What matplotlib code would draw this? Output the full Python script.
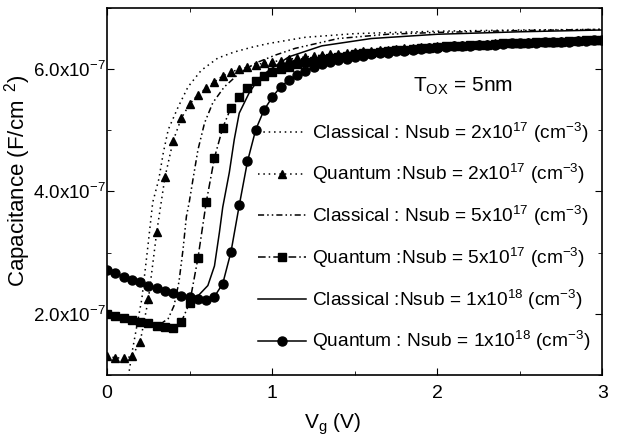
import numpy as np
import matplotlib
matplotlib.use('Agg')
import matplotlib.pyplot as plt
from matplotlib.ticker import MultipleLocator

plt.rcParams['font.family'] = ['Liberation Sans', 'DejaVu Sans']
plt.rcParams['mathtext.fontset'] = 'custom'
plt.rcParams['mathtext.rm'] = 'Liberation Sans'
plt.rcParams['mathtext.it'] = 'Liberation Sans'

# capacitance values in units of 1e-7 F/cm^2
# classical curves (lines only)
v_cl_2e17 = [0.0, 0.10, 0.13, 0.155, 0.18, 0.21, 0.245, 0.276, 0.313, 0.34, 0.37, 0.43,
             0.49, 0.57, 0.67, 0.77, 0.88, 0.98, 1.2, 1.5, 2.0, 2.5, 3.0]
c_cl_2e17 = [0.75, 0.85, 1.0, 1.43, 1.80, 2.24, 3.06, 3.82, 4.20, 4.63, 5.01, 5.38,
             5.71, 5.98, 6.18, 6.28, 6.36, 6.42, 6.52, 6.58, 6.62, 6.64, 6.65]

v_cl_5e17 = [0.0, 0.1, 0.2, 0.307, 0.37, 0.405, 0.435, 0.46, 0.48, 0.497, 0.52, 0.55,
             0.59, 0.64, 0.71, 0.80, 0.90, 1.02, 1.14, 1.4, 1.7, 2.0, 2.5, 3.0]
c_cl_5e17 = [1.98, 1.90, 1.83, 1.80, 1.92, 2.13, 2.52, 3.06, 3.59, 3.82, 4.20, 4.68,
             5.12, 5.45, 5.71, 5.93, 6.10, 6.23, 6.34, 6.50, 6.57, 6.60, 6.63, 6.65]

v_cl_1e18 = [0.0, 0.2, 0.4, 0.5, 0.55, 0.61, 0.65, 0.68, 0.70, 0.74, 0.77, 0.80,
             0.86, 0.92, 0.98, 1.1, 1.3, 1.6, 2.0, 2.5, 3.0]
c_cl_1e18 = [2.70, 2.50, 2.33, 2.27, 2.29, 2.46, 2.78, 3.33, 3.74, 4.31, 4.85, 5.28,
             5.61, 5.85, 5.98, 6.20, 6.38, 6.50, 6.57, 6.61, 6.64]

# quantum curves, markers every 0.05 V from 0 to 3 V
v_qm = np.round(np.arange(0, 3.001, 0.05), 2)
c_qm_2e17 = [1.30, 1.28, 1.27, 1.30, 1.54, 2.24, 3.33, 4.23, 4.83, 5.20,
             5.43, 5.58, 5.69, 5.79, 5.89, 5.95, 6.00, 6.03, 6.07, 6.10,
             6.12, 6.14, 6.16, 6.18, 6.20, 6.21, 6.23, 6.24, 6.25, 6.27,
             6.28, 6.29, 6.30, 6.31, 6.32, 6.33, 6.34, 6.35, 6.36, 6.36,
             6.37, 6.38, 6.39, 6.39, 6.40, 6.41, 6.41, 6.42, 6.42, 6.43,
             6.43, 6.44, 6.44, 6.45, 6.45, 6.46, 6.46, 6.47, 6.47, 6.48, 6.48]
c_qm_5e17 = [2.00, 1.97, 1.93, 1.90, 1.87, 1.84, 1.80, 1.79, 1.77, 1.87,
             2.18, 2.91, 3.82, 4.55, 5.04, 5.37, 5.54, 5.69, 5.80, 5.89,
             5.95, 6.00, 6.04, 6.08, 6.11, 6.14, 6.16, 6.18, 6.20, 6.22,
             6.24, 6.26, 6.27, 6.28, 6.30, 6.31, 6.32, 6.33, 6.34, 6.35,
             6.36, 6.37, 6.38, 6.38, 6.39, 6.40, 6.40, 6.41, 6.42, 6.42,
             6.43, 6.43, 6.44, 6.44, 6.45, 6.45, 6.46, 6.46, 6.47, 6.47, 6.48]
c_qm_1e18 = [2.72, 2.67, 2.60, 2.55, 2.52, 2.46, 2.42, 2.37, 2.34, 2.29,
             2.28, 2.24, 2.23, 2.28, 2.49, 3.01, 3.77, 4.49, 5.01, 5.33,
             5.54, 5.71, 5.82, 5.90, 5.97, 6.03, 6.08, 6.11, 6.15, 6.17,
             6.20, 6.22, 6.24, 6.26, 6.27, 6.29, 6.30, 6.31, 6.33, 6.34,
             6.35, 6.36, 6.37, 6.37, 6.38, 6.39, 6.40, 6.40, 6.41, 6.42,
             6.42, 6.43, 6.43, 6.44, 6.44, 6.45, 6.45, 6.46, 6.46, 6.47, 6.47]

labels = [r'Classical : Nsub = 2x10$^{17}$ (cm$^{-3}$)',
          r'Quantum :Nsub = 2x10$^{17}$ (cm$^{-3}$)',
          r'Classical : Nsub = 5x10$^{17}$ (cm$^{-3}$)',
          r'Quantum :Nsub = 5x10$^{17}$ (cm$^{-3}$)',
          r'Classical :Nsub = 1x10$^{18}$ (cm$^{-3}$)',
          r'Quantum : Nsub = 1x10$^{18}$ (cm$^{-3}$)']

y_ticks = [2.0, 4.0, 6.0]
y_ticklabels = [r'2.0x10$^{-7}$', r'4.0x10$^{-7}$', r'6.0x10$^{-7}$']
x_ticks = [0, 1, 2, 3]

dots = (0, (1, 2.5))
dashdot = (0, (5, 2, 1, 2))
dashdotdot = (0, (4, 2, 1, 2, 1, 2))

fig = plt.figure(figsize=(6.23, 4.42), dpi=100)
ax = fig.add_axes([0.172, 0.152, 0.795, 0.83])

sc = 1e-7
ax.plot(v_cl_2e17, np.array(c_cl_2e17) * sc, color='k', ls=dots, lw=1.1, label=labels[0])
ax.plot(v_qm, np.array(c_qm_2e17) * sc, color='k', ls=dots, lw=1.1, marker='^', ms=6,
        label=labels[1])
ax.plot(v_cl_5e17, np.array(c_cl_5e17) * sc, color='k', ls=dashdotdot, lw=1.1, label=labels[2])
ax.plot(v_qm, np.array(c_qm_5e17) * sc, color='k', ls=dashdot, lw=1.1, marker='s', ms=5.5,
        label=labels[3])
ax.plot(v_cl_1e18, np.array(c_cl_1e18) * sc, color='k', ls='-', lw=1.1, label=labels[4])
ax.plot(v_qm, np.array(c_qm_1e18) * sc, color='k', ls='-', lw=1.1, marker='o', ms=6.5,
        label=labels[5])

ax.set_xlim(0, 3)
ax.set_ylim(1.0e-7, 7.0e-7)
ax.set_xticks(x_ticks)
ax.set_xticklabels([str(t) for t in x_ticks])
ax.set_yticks([t * sc for t in y_ticks])
ax.set_yticklabels(y_ticklabels)
ax.xaxis.set_minor_locator(MultipleLocator(0.5))
ax.yaxis.set_minor_locator(MultipleLocator(1e-7))
ax.tick_params(which='both', direction='in', top=True, right=True)
ax.tick_params(axis='x', pad=7, labelsize=14)
ax.tick_params(axis='y', pad=1, labelsize=13.5)
ax.tick_params(which='major', length=5)
ax.tick_params(which='minor', length=3)
for s in ax.spines.values():
    s.set_linewidth(1.2)

ax.set_xlabel(r'V$_{\rm g}$ (V)', fontsize=15)
ax.xaxis.set_label_coords(0.456, -0.1)
ax.set_ylabel(r'Capacitance (F/cm$^{\ \ 2}$)', fontsize=16)
ax.yaxis.set_label_coords(-0.15, 0.53)

ax.text(0.617, 0.771, r'T$_{\rm OX}$ = 5nm', transform=ax.transAxes, fontsize=15)
ax.legend(loc='upper left', bbox_to_anchor=(0.29, 0.714), frameon=False, fontsize=13.8,
          handlelength=2.5, handletextpad=0.3, labelspacing=0.92, borderaxespad=0)

fig.savefig('out.png', dpi=100)
